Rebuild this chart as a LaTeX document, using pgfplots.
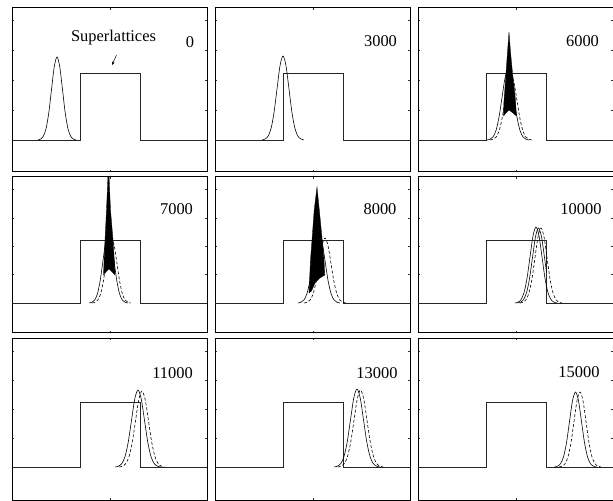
\documentclass[border=0pt]{standalone}
\usepackage{fontspec}
\setmainfont{Liberation Serif}
\usepackage{pgfplots}
\pgfplotsset{compat=1.18}
\usetikzlibrary{arrows.meta}
\pgfplotsset{
 panel/.style={anchor=south west, scale only axis, width=195bp, xmin=0, xmax=195,
   axis line style={line width=1pt, black}, xtick={98}, xticklabels={}, yticklabels={},
   tick align=inside, major tick length=2.5pt, tick style={line width=0.4pt, black!80},
   every axis plot/.append style={line width=0.6pt, black}},
 row1/.style={panel, height=164bp, ymin=-32, ymax=132, ytick={0,30,60,90,120}},
 row2/.style={panel, height=156bp, ymin=-30, ymax=126, ytick={0,28.3,56.6,85,113.3}},
 row3/.style={panel, height=162bp, ymin=-33, ymax=129, ytick={0,29,58,87,116}},
 dsh/.style={dash pattern=on 3pt off 2pt},
}
\newcommand{\lab}[3]{\node[font=\fontsize{16.5}{18}\selectfont, anchor=base] at (axis cs:#1,#2) {#3};}
\begin{document}
\begin{tikzpicture}
\path[use as bounding box] (0,0) rectangle (613bp,501bp);
% ---------- row 1 ----------
\begin{axis}[row1, at={(12bp,329bp)}]
\addplot[black!85] coordinates {(0,0)(68.5,0)(68.5,67)(128.5,67)(128.5,0)(195,0)};
\addplot[smooth] coordinates {(25.75,0)(28.5,0.92)(31.25,3.64)(34,11.23)(36.75,26.95)(39.5,50.34)(42.25,73.25)(45,83)(47.75,73.25)(50.5,50.34)(53.25,26.95)(56,11.23)(58.75,3.64)(61.5,0.92)(64.25,0)};
\node[font=\fontsize{16.5}{18}\selectfont, anchor=base] at (axis cs:101.5,98) {Superlattices};
\draw[line width=0.5pt, -{Stealth[length=3.5pt,width=3pt]}] (axis cs:104.5,85) -- (axis cs:100,75);
\lab{178}{92}{0}
\end{axis}
\begin{axis}[row1, at={(215bp,329bp)}]
\addplot[black!85] coordinates {(0,0)(68.5,0)(68.5,67)(128.5,67)(128.5,0)(195,0)};
\addplot[smooth] coordinates {(47,0)(50,0.93)(53,3.69)(56,11.37)(59,27.27)(62,50.95)(65,74.13)(68,84)(71,74.13)(74,50.95)(77,27.27)(80,11.37)(83,3.69)(86,0.93)(89,0)};
\lab{165.5}{93}{3000}
\end{axis}
\begin{axis}[row1, at={(418bp,329bp)}]
\addplot[black!85] coordinates {(0,0)(68.5,0)(68.5,67)(128.5,67)(128.5,0)(195,0)};
\addplot[smooth] coordinates {(69,0)(72,0.78)(75,3.07)(78,9.47)(81,22.73)(84,42.46)(87,61.78)(90,70)(93,61.78)(96,42.46)(99,22.73)(102,9.47)(105,3.07)(108,0.78)(111,0)};
\addplot[smooth, dsh] coordinates {(72,0)(75,0.72)(78,2.85)(81,8.79)(84,21.11)(87,39.42)(90,57.36)(93,65)(96,57.36)(99,39.42)(102,21.11)(105,8.79)(108,2.85)(111,0.72)(114,0)};
\addplot[fill=black, draw=black, line width=0.3pt] coordinates {(85.5,24)(85.9,38)(86.8,50)(88,67)(89.5,88)(91,108)(92.5,88)(94.5,67)(96.5,50)(97.6,38)(98.3,24)(95,27)(91,30)(88,27)} -- cycle;
\lab{164.5}{93}{6000}
\end{axis}
% ---------- row 2 ----------
\begin{axis}[row2, at={(12bp,168bp)}]
\addplot[black!85] coordinates {(0,0)(68.5,0)(68.5,63)(128.5,63)(128.5,0)(195,0)};
\addplot[smooth] coordinates {(77.25,0)(80,0.78)(82.75,3.07)(85.5,9.47)(88.25,22.73)(91,42.46)(93.75,61.78)(96.5,70)(99.25,61.78)(102,42.46)(104.75,22.73)(107.5,9.47)(110.25,3.07)(113,0.78)(115.75,0)};
\addplot[smooth, dsh] coordinates {(80.25,0)(83,0.72)(85.75,2.85)(88.5,8.79)(91.25,21.11)(94,39.42)(96.75,57.36)(99.5,65)(102.25,57.36)(105,39.42)(107.75,21.11)(110.5,8.79)(113.25,2.85)(116,0.72)(118.75,0)};
\addplot[fill=black, draw=black, line width=0.3pt] coordinates {(91.5,28)(92,40)(93,63)(94.5,93)(96.5,140)(98.5,93)(101,63)(102.5,40)(103,28)(100,31)(97,34)(94,31)} -- cycle;
\lab{164.5}{88}{7000}
\end{axis}
\begin{axis}[row2, at={(215bp,168bp)}]
\addplot[black!85] coordinates {(0,0)(68.5,0)(68.5,63)(128.5,63)(128.5,0)(195,0)};
\addplot[smooth] coordinates {(83,0)(86,0.78)(89,3.07)(92,9.47)(95,22.73)(98,42.46)(101,61.78)(104,70)(107,61.78)(110,42.46)(113,22.73)(116,9.47)(119,3.07)(122,0.78)(125,0)};
\addplot[smooth, dsh] coordinates {(89,0)(92,0.72)(95,2.85)(98,8.79)(101,21.11)(104,39.42)(107,57.36)(110,65)(113,57.36)(116,39.42)(119,21.11)(122,8.79)(125,2.85)(128,0.72)(131,0)};
\addplot[fill=black, draw=black, line width=0.3pt] coordinates {(94,10)(94.5,22)(95.5,43)(97,63)(99.2,93)(102,116)(104.3,93)(107.2,63)(109,43)(109.8,28)(105,25)(100,20)(96.5,12)} -- cycle;
\lab{165}{88}{8000}
\end{axis}
\begin{axis}[row2, at={(418bp,168bp)}]
\addplot[black!85] coordinates {(0,0)(68.5,0)(68.5,63)(128.5,63)(128.5,0)(195,0)};
\addplot[smooth] coordinates {(97,0)(100,0.84)(103,3.34)(106,10.28)(109,24.68)(112,46.09)(115,67.07)(118,76)(121,67.07)(124,46.09)(127,24.68)(130,10.28)(133,3.34)(136,0.84)(139,0)};
\addplot[smooth] coordinates {(99.5,0)(102.5,0.83)(105.5,3.29)(108.5,10.15)(111.5,24.35)(114.5,45.49)(117.5,66.19)(120.5,75)(123.5,66.19)(126.5,45.49)(128.5,30.8)};
\addplot[smooth, dsh] coordinates {(102,0)(105,0.83)(108,3.29)(111,10.15)(114,24.35)(117,45.49)(120,66.19)(123,75)(126,66.19)(129,45.49)(132,24.35)(135,10.15)(138,3.29)(141,0.83)(144,0)};
\lab{163}{88}{10000}
\end{axis}
% ---------- row 3 ----------
\begin{axis}[row3, at={(12bp,1bp)}]
\addplot[black!85] coordinates {(0,0)(68.5,0)(68.5,64.5)(128.5,64.5)(128.5,0)(195,0)};
\addplot[smooth] coordinates {(103.25,0)(106.5,0.85)(109.75,3.38)(113,10.42)(116.25,25.00)(119.5,46.70)(122.75,67.95)(126,77)(129.25,67.95)(132.5,46.70)(135.75,25.00)(139,10.42)(142.25,3.38)(145.5,0.85)(148.75,0)};
\addplot[smooth, dsh] coordinates {(107.25,0)(110.5,0.84)(113.75,3.34)(117,10.28)(120.25,24.68)(123.5,46.09)(126.75,67.07)(130,76)(133.25,67.07)(136.5,46.09)(139.75,24.68)(143,10.28)(146.25,3.34)(149.5,0.84)(152.75,0)};
\lab{160.5}{89}{11000}
\end{axis}
\begin{axis}[row3, at={(215bp,1bp)}]
\addplot[black!85] coordinates {(0,0)(68.5,0)(68.5,64.5)(128.5,64.5)(128.5,0)(195,0)};
\addplot[smooth] coordinates {(119.25,0)(122.5,0.87)(125.75,3.42)(129,10.55)(132.25,25.33)(135.5,47.31)(138.75,68.84)(142,78)(145.25,68.84)(148.5,47.31)(151.75,25.33)(155,10.55)(158.25,3.42)(161.5,0.87)(164.75,0)};
\addplot[smooth, dsh] coordinates {(122.75,0)(126,0.85)(129.25,3.38)(132.5,10.42)(135.75,25.00)(139,46.70)(142.25,67.95)(145.5,77)(148.75,67.95)(152,46.70)(155.25,25.00)(158.5,10.42)(161.75,3.38)(165,0.85)(168.25,0)};
\lab{162}{89}{13000}
\end{axis}
\begin{axis}[row3, at={(418bp,1bp)}]
\addplot[black!85] coordinates {(0,0)(68.5,0)(68.5,64.5)(128.5,64.5)(128.5,0)(195,0)};
\addplot[smooth] coordinates {(136.5,0)(139.5,0.83)(142.5,3.29)(145.5,10.15)(148.5,24.35)(151.5,45.49)(154.5,66.19)(157.5,75)(160.5,66.19)(163.5,45.49)(166.5,24.35)(169.5,10.15)(172.5,3.29)(175.5,0.83)(178.5,0)};
\addplot[smooth, dsh] coordinates {(141,0)(144,0.83)(147,3.29)(150,10.15)(153,24.35)(156,45.49)(159,66.19)(162,75)(165,66.19)(168,45.49)(171,24.35)(174,10.15)(177,3.29)(180,0.83)(183,0)};
\lab{161}{90}{15000}
\end{axis}
\end{tikzpicture}
\end{document}
